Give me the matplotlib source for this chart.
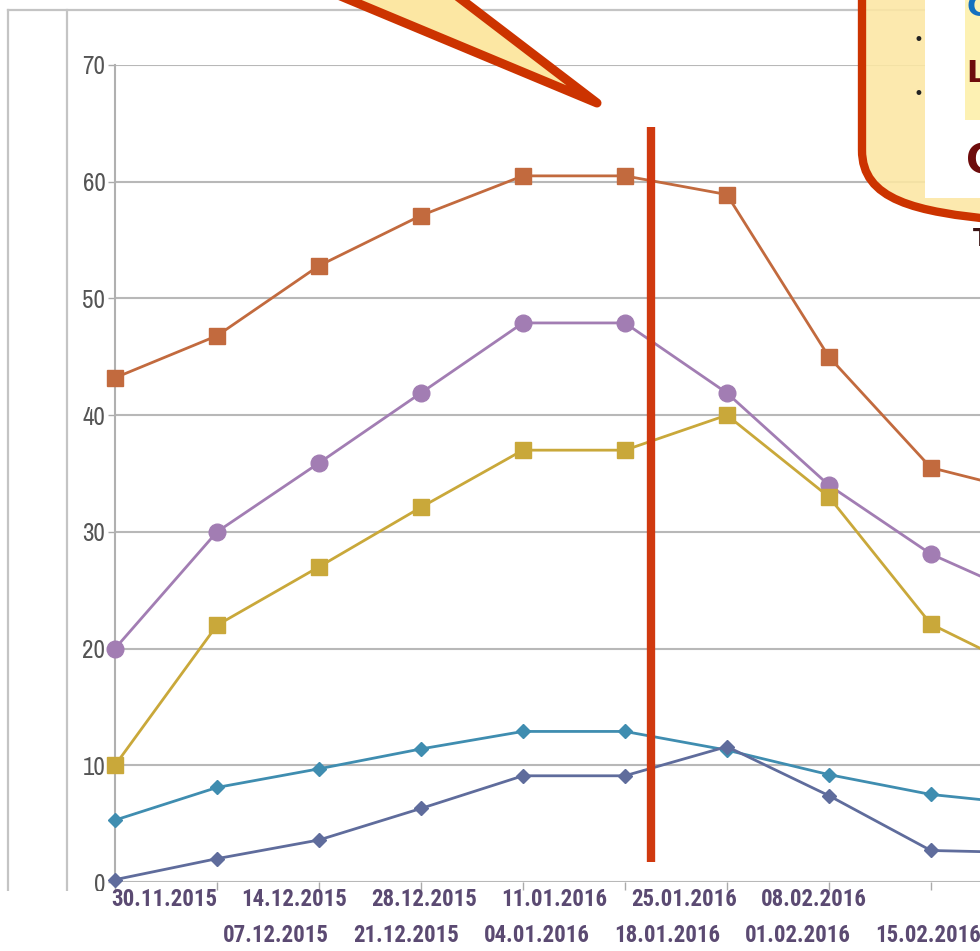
import numpy as np
import matplotlib.pyplot as plt
from matplotlib.patches import Polygon, Rectangle, PathPatch
from matplotlib.path import Path
from matplotlib.lines import Line2D

# weekly dates shown under the chart
dates = ["30.11.2015", "07.12.2015", "14.12.2015", "21.12.2015", "28.12.2015", "04.01.2016",
         "11.01.2016", "18.01.2016", "25.01.2016", "01.02.2016", "08.02.2016", "15.02.2016"]

# series values (last point lies past the right edge)
brown = [43.2, 46.8, 52.8, 57.1, 60.5, 60.5, 58.9, 45.0, 35.5, 33.3]
purple = [20.0, 30.0, 35.9, 41.9, 47.9, 47.9, 41.9, 34.0, 28.1, 24.2]
gold = [10.0, 22.0, 27.0, 32.1, 37.0, 37.0, 40.0, 33.0, 22.1, 17.8]
teal = [5.3, 8.1, 9.7, 11.4, 12.9, 12.9, 11.3, 9.2, 7.5, 6.6]
slate = [0.2, 2.0, 3.6, 6.3, 9.1, 9.1, 11.6, 7.4, 2.7, 2.5]
yticks = [0, 10, 20, 30, 40, 50, 60, 70]

W, H = 980, 951


def px(x, y):
    """pixel position (from top-left) -> figure fraction"""
    return x / W, 1 - y / H


narrow = ["Archivo Narrow", "DejaVu Sans"]
narrow_bold = ["Roboto Condensed", "DejaVu Sans"]

fig = plt.figure(figsize=(W / 100, H / 100), dpi=100)
ax = fig.add_axes([115 / W, 1 - 882 / H, 1 - 115 / W, (882 - 65) / H])

series = [
    (brown, "#c26a3e", "s", 11.5),
    (purple, "#a27db3", "o", 12),
    (gold, "#c9a83a", "s", 11.5),
    (teal, "#3f8db0", "D", 7.5),
    (slate, "#5f6c9c", "D", 7.5),
]
for vals, col, mk, ms in series:
    x = np.arange(len(vals))
    ax.plot(x, vals, color=col, lw=2.0, marker=mk, ms=ms, mec=col, mfc=col,
            clip_on=False, zorder=3)

ax.set_xlim(0, (W - 114) / 102.1)
ax.set_ylim(0, 70)
ax.set_yticks(yticks)
ax.set_yticklabels([str(v) for v in yticks], fontsize=18, color="#555555",
                   family=narrow, fontstretch="condensed")
ax.set_xticks(np.arange(9))
ax.set_xticklabels([])
ax.tick_params(axis="y", length=5, width=1, color="#aaaaaa", pad=2)
ax.tick_params(axis="x", length=6, width=1, color="#aaaaaa")
ax.grid(axis="y", color="#b8b8b8", lw=1.5)
for s in ["top", "right", "bottom"]:
    ax.spines[s].set_visible(False)
ax.spines["left"].set_color("#b0b0b0")
ax.spines["left"].set_linewidth(1.5)
ax.set_axisbelow(True)

# outer frame of the screenshot
frame_kw = dict(color="#c4c4c4", lw=1.6, transform=fig.transFigure, zorder=1)
fig.add_artist(Line2D(*zip(px(8, 10), px(W, 10)), **frame_kw))
fig.add_artist(Line2D(*zip(px(8, 10), px(8, 892)), **frame_kw))
fig.add_artist(Line2D(*zip(px(67, 10), px(67, 892)), **frame_kw))

# white band with the date labels
fig.add_artist(Rectangle(px(0, H), 1, (H - 891) / H, transform=fig.transFigure,
                         facecolor="white", edgecolor="none", zorder=4))
for i, d in enumerate(dates):
    k = i // 2
    if i % 2 == 0:
        xc, yc = 164 + 130 * k, 899
    else:
        xc, yc = 276 + 130.4 * k, 936
    fig.text(*px(xc, yc), d, ha="center", va="center", fontsize=16.5,
             fontweight="bold", color="#5b4a72", family=narrow_bold,
             fontstretch="condensed", zorder=5)

red = "#cc3300"
yellow = "#fce7a3"

# callout tail coming from the top
tail = Polygon([px(302, -20), px(597, 103), px(436, -20)], closed=True,
               transform=fig.transFigure, facecolor=yellow, edgecolor=red,
               lw=6.5, joinstyle="round", zorder=6)
fig.add_artist(tail)

# vertical marker line
fig.add_artist(Line2D(*zip(px(651, 127), px(651, 862)), color="#d0390f", lw=6,
                      solid_capstyle="butt", transform=fig.transFigure, zorder=6))

# callout box at top right
verts = [px(862, -30), px(862, 150), px(862, 200), px(915, 212), px(1000, 220),
         px(1000, -30), px(862, -30)]
codes = [Path.MOVETO, Path.LINETO, Path.CURVE4, Path.CURVE4, Path.CURVE4,
         Path.LINETO, Path.CLOSEPOLY]
box = PathPatch(Path(verts, codes), transform=fig.transFigure, facecolor=yellow,
                alpha=0.88, edgecolor="none", zorder=6)
fig.add_artist(box)
fig.add_artist(PathPatch(Path(verts, codes), transform=fig.transFigure,
                         facecolor="none", edgecolor=red, lw=6, zorder=7))
fig.add_artist(Rectangle(px(925, 198), 60 / W, 210 / H, transform=fig.transFigure,
                         facecolor="white", edgecolor="none", zorder=6.5))
fig.add_artist(Rectangle(px(965, 120), 20 / W, 130 / H, transform=fig.transFigure,
                         facecolor="#fdf1b3", edgecolor="none", zorder=6.6))
for yy in [40, 94]:
    fig.text(*px(918, yy), "\u2022", ha="center", va="center", fontsize=12,
             color="#222222", zorder=8)
fig.text(*px(966, 16), "C", ha="left", va="baseline", fontsize=22,
         fontweight="bold", color="#1470c0", zorder=8)
fig.text(*px(966, 82), "L", ha="left", va="baseline", fontsize=22,
         fontweight="bold", color="#6e0c0c", zorder=8)
fig.text(*px(966, 173), "C", ha="left", va="baseline", fontsize=29,
         fontweight="bold", color="#6e0c0c", zorder=8)
fig.text(*px(973, 246), "T", ha="left", va="baseline", fontsize=18,
         fontweight="bold", color="#3a1212", zorder=8)

fig.savefig("out.png", dpi=100)
